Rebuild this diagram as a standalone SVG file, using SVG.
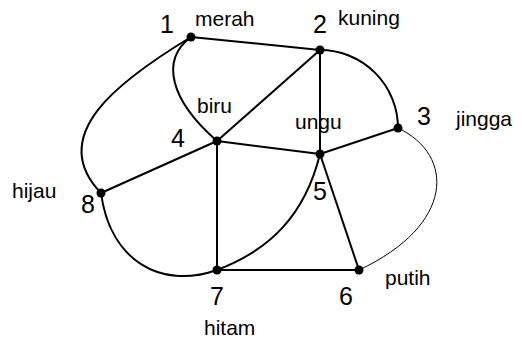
<svg xmlns="http://www.w3.org/2000/svg" width="522" height="343" viewBox="0 0 522 343">
<style>
.e{fill:none;stroke:#000;stroke-width:2}
.thin{fill:none;stroke:#000;stroke-width:1}
.n{fill:#000}
.d{font-family:"Liberation Sans",Arial,sans-serif;font-size:25px;fill:#000;text-anchor:middle}
.l{font-family:"Liberation Sans",Arial,sans-serif;font-size:21px;fill:#000}
</style>
<rect width="522" height="343" fill="#fff"/>
<g id="connectors">
<line class="e" x1="191" y1="37" x2="320" y2="50"/>
<line class="e" x1="320" y1="50" x2="320" y2="154"/>
<line class="e" x1="320" y1="50" x2="217" y2="141"/>
<path class="e" d="M191,37 C160,60 170,100 217,141"/>
<path class="e" d="M191,37 C120,80 45,135 101,193"/>
<line class="e" x1="217" y1="141" x2="101" y2="193"/>
<line class="e" x1="217" y1="141" x2="320" y2="154"/>
<line class="e" x1="217" y1="141" x2="217" y2="270"/>
<line class="e" x1="320" y1="154" x2="398" y2="128"/>
<line class="e" x1="320" y1="154" x2="359" y2="270"/>
<path class="e" d="M320,154 C305,215 270,250 217,270"/>
<line class="e" x1="217" y1="270" x2="359" y2="270"/>
<path class="e" d="M101,193 C110,260 160,290 217,270"/>
<path class="e" d="M320,50 A78,78 0 0 1 398,128"/>
<path class="thin" d="M398,128 C455,155 455,225 359,270"/>
</g>
<g id="n1"><circle class="n" cx="191" cy="37" r="4.5"/><text class="d" x="167" y="33">1</text><text class="l" x="195" y="26">merah</text></g>
<g id="n2"><circle class="n" cx="320" cy="50" r="4.5"/><text class="d" x="320" y="33">2</text><text class="l" x="338" y="25">kuning</text></g>
<g id="n3"><circle class="n" cx="398" cy="128" r="4.5"/><text class="d" x="424" y="125">3</text><text class="l" x="456" y="126">jingga</text></g>
<g id="n4"><circle class="n" cx="217" cy="141" r="4.5"/><text class="d" x="178" y="147">4</text><text class="l" x="197" y="113">biru</text></g>
<g id="n5"><circle class="n" cx="320" cy="154" r="4.5"/><text class="d" x="320" y="200">5</text><text class="l" x="295" y="129">ungu</text></g>
<g id="n6"><circle class="n" cx="359" cy="270" r="4.5"/><text class="d" x="346" y="305">6</text><text class="l" x="385" y="285">putih</text></g>
<g id="n7"><circle class="n" cx="217" cy="270" r="4.5"/><text class="d" x="217" y="305">7</text><text class="l" x="204" y="335">hitam</text></g>
<g id="n8"><circle class="n" cx="101" cy="193" r="4.5"/><text class="d" x="88" y="213">8</text><text class="l" x="12" y="198">hijau</text></g>
</svg>
